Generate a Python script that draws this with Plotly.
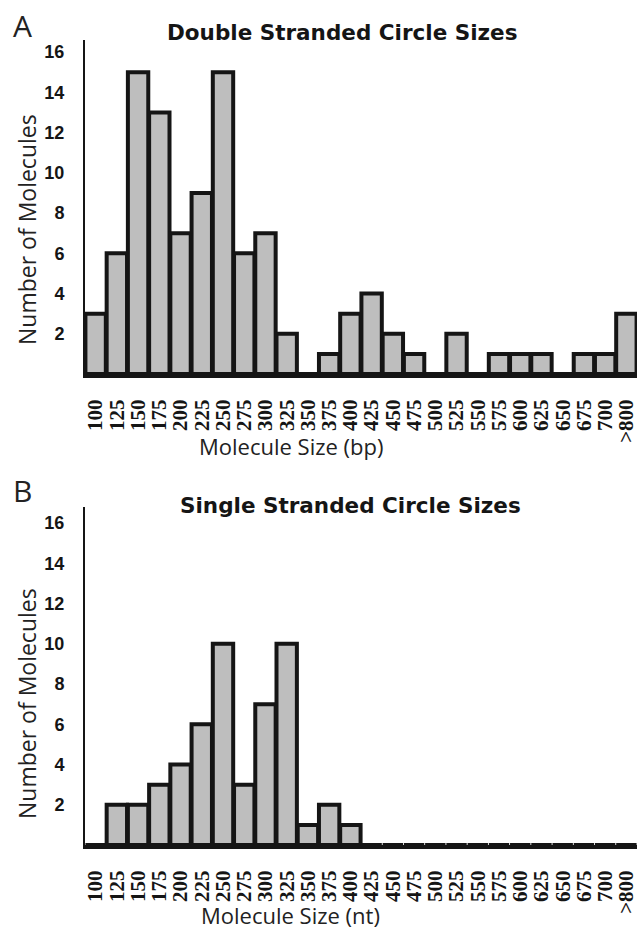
import plotly.graph_objects as go

W, H = 638, 929

categories = ["100", "125", "150", "175", "200", "225", "250", "275", "300", "325",
              "350", "375", "400", "425", "450", "475", "500", "525", "550", "575",
              "600", "625", "650", "675", "700", ">800"]
ds_counts = [3, 6, 15, 13, 7, 9, 15, 6, 7, 2,
             0, 1, 3, 4, 2, 1, 0, 2, 0, 1,
             1, 1, 0, 1, 1, 3]
ss_counts = [0, 2, 2, 3, 4, 6, 10, 3, 7, 10,
             1, 2, 1, 0, 0, 0, 0, 0, 0, 0,
             0, 0, 0, 0, 0, 0]
y_ticks = [2, 4, 6, 8, 10, 12, 14, 16]

def px(x):
    return x / W

def py(y):
    return 1 - y / H

fig = go.Figure()
fig.add_trace(go.Bar(x=categories, y=ds_counts, xaxis="x", yaxis="y",
                     marker=dict(color="#bebebe", line=dict(color="#151515", width=4)),
                     showlegend=False))
fig.add_trace(go.Bar(x=categories, y=ss_counts, xaxis="x2", yaxis="y2",
                     marker=dict(color="#bebebe", line=dict(color="#151515", width=4)),
                     showlegend=False))

xdom = [px(85), px(637)]
xaxis_common = dict(
    domain=xdom, type="category", categoryorder="array", categoryarray=categories,
    range=[-0.5, 25.5], tickangle=-90, ticks="", showline=True, linecolor="#151515",
    linewidth=4, showgrid=False, zeroline=False, ticklabelstandoff=13,
    tickmode="array", tickvals=categories, ticktext=categories, automargin=False,
    tickfont=dict(family="Liberation Serif", size=21, color="#151515", weight="bold"),
)
yaxis_common = dict(
    tickvals=y_ticks, ticks="", showline=True, linecolor="#151515", linewidth=2,
    showgrid=False, zeroline=False, ticklabelstandoff=15, automargin=False,
    tickfont=dict(family="Liberation Sans", size=18, color="#151515", weight="bold"),
)

fig.update_layout(
    width=W, height=H, margin=dict(l=0, r=0, t=0, b=0),
    paper_bgcolor="white", plot_bgcolor="white", bargap=0.04,
    xaxis=dict(anchor="y", **xaxis_common),
    yaxis=dict(anchor="x", domain=[py(374), py(40)], range=[0, 16.6], **yaxis_common),
    xaxis2=dict(anchor="y2", **xaxis_common),
    yaxis2=dict(anchor="x2", domain=[py(845), py(507)], range=[0, 16.8], **yaxis_common),
)

label_font = dict(family="Open Sans", size=23, color="#222")
xlabel_font = dict(family="Open Sans", size=22, color="#222")
title_font = dict(family="DejaVu Sans", size=21.5, color="#151515", weight="bold")
annots = [
    dict(text="A", x=px(22), y=py(25), font=dict(family="Open Sans", size=30, color="#222")),
    dict(text="B", x=px(22), y=py(490), font=dict(family="Open Sans", size=30, color="#222")),
    dict(text="Double Stranded Circle Sizes", x=px(342), y=py(33), font=title_font),
    dict(text="Single Stranded Circle Sizes", x=px(350), y=py(505), font=title_font),
    dict(text="Number of Molecules", x=px(27), y=py(230), textangle=-90, font=label_font),
    dict(text="Number of Molecules", x=px(27), y=py(704), textangle=-90, font=label_font),
    dict(text="Molecule Size (bp)", x=px(291), y=py(446), font=xlabel_font),
    dict(text="Molecule Size (nt)", x=px(290), y=py(915), font=xlabel_font),
]
for a in annots:
    fig.add_annotation(xref="paper", yref="paper", showarrow=False,
                       xanchor="center", yanchor="middle", **a)

fig.write_html("out.html", config={"displayModeBar": False},
               post_script="document.body.style.margin='0';")
